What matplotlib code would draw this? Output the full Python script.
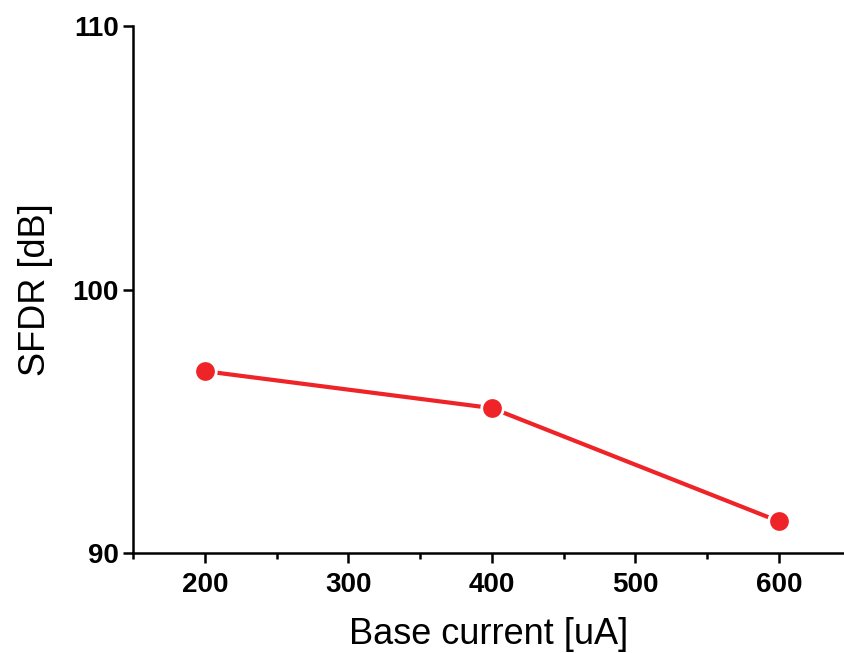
import matplotlib
matplotlib.use("Agg")
import matplotlib.pyplot as plt
from matplotlib.ticker import MultipleLocator

base_current = [200, 400, 600]
sfdr_db = [96.9, 95.5, 91.2]
x_ticks = [200, 300, 400, 500, 600]
y_ticks = [90, 100, 110]

plt.rcParams["font.family"] = ["Liberation Sans", "DejaVu Sans"]

fig = plt.figure(figsize=(8.45, 6.53), dpi=100)
ax = fig.add_axes([133 / 845, 100 / 653, (845 - 133) / 845, (553 - 26) / 653])

ax.plot(base_current, sfdr_db, color="#ee2428", linewidth=3.0,
        marker="o", markersize=15.5, markerfacecolor="#ee2428",
        markeredgecolor="white", markeredgewidth=2.0, clip_on=False, zorder=3)

ax.set_xlim(150, 646)
ax.set_ylim(90, 110)
ax.set_xticks(x_ticks)
ax.set_yticks(y_ticks)
ax.xaxis.set_minor_locator(MultipleLocator(50))

for side in ("top", "right"):
    ax.spines[side].set_visible(False)
for side in ("left", "bottom"):
    ax.spines[side].set_linewidth(1.8)

ax.tick_params(axis="both", which="major", direction="out", length=7,
               width=1.8, labelsize=20)
ax.tick_params(axis="x", which="major", pad=7)
ax.tick_params(axis="y", which="major", pad=3)
ax.tick_params(axis="x", which="minor", direction="out", length=4, width=1.8)
for lbl in ax.get_xticklabels() + ax.get_yticklabels():
    lbl.set_fontweight("bold")

ax.set_xlabel("Base current [uA]", fontsize=26, labelpad=13)
ax.set_ylabel("SFDR [dB]", fontsize=26, labelpad=14)

fig.savefig("out.png", dpi=100)
